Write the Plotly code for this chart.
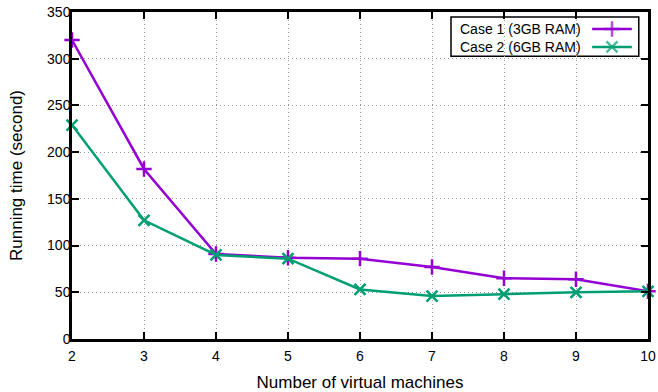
import plotly.graph_objects as go

vms = [2, 3, 4, 5, 6, 7, 8, 9, 10]
case1 = [320, 182, 91, 87, 86, 77, 65, 64, 51]
case2 = [229, 127, 90, 86, 53, 46, 48, 50, 51]
names = ["Case 1 (3GB RAM)", "Case 2 (6GB RAM)"]
colors = ["#9400D3", "#009E73"]
symbols = ["cross-thin-open", "x-thin-open"]

FONT = "Liberation Sans"
FS = 14
fig = go.Figure()
for ys, nm, c, s in zip([case1, case2], names, colors, symbols):
    fig.add_trace(go.Scatter(
        x=vms, y=ys, mode="lines+markers", name=nm, showlegend=False,
        line=dict(color=c, width=2.5),
        marker=dict(symbol=s, size=11, line=dict(color=c, width=2.5), color=c),
        cliponaxis=False,
    ))

# custom gnuplot-style legend (text left, sample right)
lx0, lx1, lxm = 0.903, 0.972, 0.9375
rows = [0.948, 0.893]
fig.add_shape(type="rect", xref="paper", yref="paper", x0=0.658, x1=0.984,
              y0=0.865, y1=0.985, line=dict(color="black", width=1.5),
              fillcolor="white", layer="between")
for nm, c, s, ry in zip(names, colors, symbols, rows):
    fig.add_annotation(xref="paper", yref="paper", x=0.887, y=ry, text=nm,
                       showarrow=False, xanchor="right", yanchor="middle",
                       font=dict(family=FONT, size=FS, color="black"))
    fig.add_trace(go.Scatter(
        x=[lx0, lxm, lx1], y=[ry, ry, ry], xaxis="x2", yaxis="y2",
        mode="lines+markers", showlegend=False, hoverinfo="skip",
        line=dict(color=c, width=2.5),
        marker=dict(symbol=s, size=[0, 11, 0], line=dict(color=c, width=2.5), color=c),
    ))

axis_common = dict(ticks="inside", ticklen=7, tickwidth=2, tickcolor="black",
                   showline=True, linecolor="black", linewidth=2.5, mirror="ticks",
                   showgrid=True, gridcolor="#9a9a9a", griddash="1px,3px", gridwidth=1,
                   zeroline=False, automargin=False, tickfont=dict(size=FS),
                   ticklabeloverflow="allow")
fig.update_layout(
    width=658, height=392,
    margin=dict(l=72, r=10, t=12, b=53),
    paper_bgcolor="white", plot_bgcolor="white",
    font=dict(family=FONT, size=FS, color="black"),
    xaxis=dict(range=[2, 10], tickvals=vms, ticklabelstandoff=2,
               title=dict(text="Number of virtual machines", standoff=18),
               **axis_common),
    yaxis=dict(range=[0, 350], tickvals=list(range(0, 351, 50)), ticklabelstandoff=-4,
               title=dict(text="Running time (second)", standoff=21),
               **axis_common),
    xaxis2=dict(range=[0, 1], overlaying="x", visible=False, fixedrange=True),
    yaxis2=dict(range=[0, 1], overlaying="y", visible=False, fixedrange=True),
)

fig.write_html("out.html", config={"displayModeBar": False},
               post_script="document.body.style.margin='0';")
